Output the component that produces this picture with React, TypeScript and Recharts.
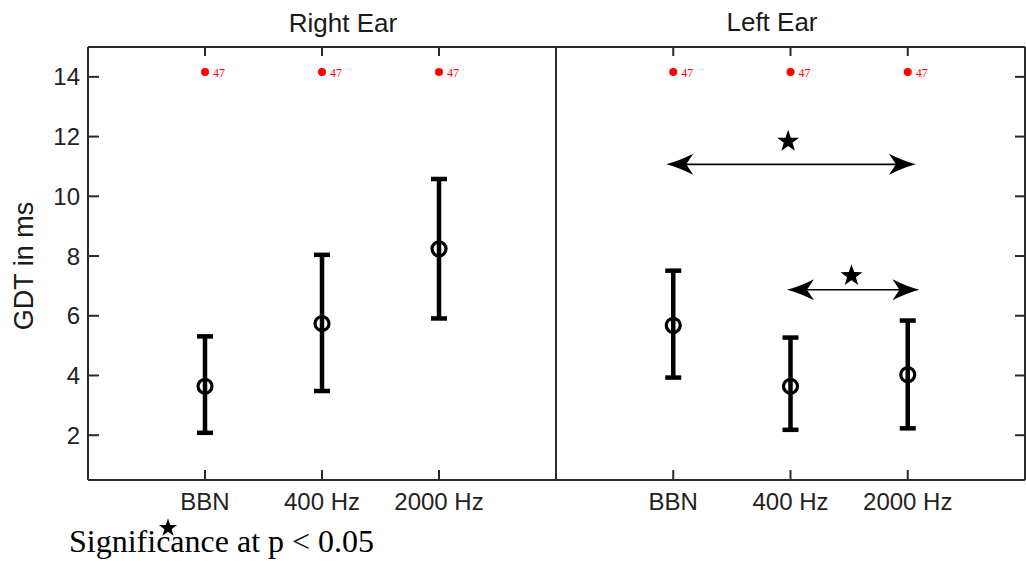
import React from 'react';
import { ScatterChart, Scatter, XAxis, YAxis, ErrorBar, ReferenceLine } from 'recharts';

// ---- data ----
const categories = ['BBN', '400 Hz', '2000 Hz'];
const categoryPositions = [1, 2, 3];

const rightMean = [3.64, 5.74, 8.24];
const rightLow = [2.08, 3.48, 5.91];
const rightHigh = [5.31, 8.04, 10.58];

const leftMean = [5.68, 3.64, 4.03];
const leftLow = [3.93, 2.18, 2.23];
const leftHigh = [7.51, 5.27, 5.84];

const yTicks = [2, 4, 6, 8, 10, 12, 14];
const yDomain = [0.5, 15];
const xDomain = [0, 4];

// significance arrows in the Left Ear panel
const arrowStartX = [0.94, 1.97];
const arrowEndX = [3.07, 3.1];
const arrowY = [11.07, 6.87];
const starX = [1.98, 2.52];
const starY = [11.84, 7.34];

const buildRows = (mean: number[], low: number[], high: number[]) =>
  categoryPositions.map((x, i) => ({
    x,
    y: mean[i],
    err: [mean[i] - low[i], high[i] - mean[i]],
  }));

const rightRows = buildRows(rightMean, rightLow, rightHigh);
const leftRows = buildRows(leftMean, leftLow, leftHigh);
const starRows = starX.map((x, i) => ({ x, y: starY[i] }));
const topTickRows = categoryPositions.map((x) => ({ x, y: yDomain[1] }));

// ---- styles ----
const AXIS = '#2a2a2a';
const SANS = '"Liberation Sans", Arial, sans-serif';
const tickStyle = { fontFamily: SANS, fontSize: 24, fill: '#222' };
const axisLineStyle = { stroke: AXIS, strokeWidth: 2 };

const Empty = () => <g />;
const NoDot = () => <g />;

const CircleShape = (props: any) => {
  const { cx, cy } = props;
  return <circle cx={cx} cy={cy} r={7} fill="none" stroke="#000" strokeWidth={3.2} />;
};

// inward tick mark hanging below the top frame line
const TopTickShape = (props: any) => {
  const { cx, cy } = props;
  return (
    <g>
      <line x1={cx} y1={cy} x2={cx} y2={cy + 9} stroke={AXIS} strokeWidth={2} />
      <circle cx={cx} cy={cy + 25} r={4} fill="red" />
      <text x={cx + 8} y={cy + 30} fontSize={12} fill="red">{`${Math.round(cy)}`}</text>
    </g>
  );
};

const starPoints = (cx: number, cy: number, ro: number, ri: number) => {
  const pts: string[] = [];
  for (let k = 0; k < 10; k++) {
    const r = k % 2 === 0 ? ro : ri;
    const a = ((-90 + k * 36) * Math.PI) / 180;
    pts.push(`${cx + r * Math.cos(a)},${cy + r * Math.sin(a)}`);
  }
  return pts.join(' ');
};

const StarShape = (props: any) => {
  const { cx, cy } = props;
  return <polygon points={starPoints(cx, cy, 11.5, 4.6)} fill="#000" />;
};

const headPath = (tx: number, ty: number, dir: number) => {
  const L = 27;
  const H = 10.5;
  const p = (dx: number, dy: number) => `${tx - dir * dx},${ty + dy}`;
  return `M${p(0, 0)} Q${p(12, -3)} ${p(L, -H)} L${p(20, 0)} L${p(L, H)} Q${p(12, 3)} ${p(0, 0)} Z`;
};

const ArrowShape = (props: any) => {
  const { x1, y1, x2, y2 } = props;
  const left = Math.min(x1, x2);
  const right = Math.max(x1, x2);
  return (
    <g>
      <line x1={left + 18} y1={y1} x2={right - 18} y2={y2} stroke="#000" strokeWidth={1.6} />
      <path d={headPath(right, y2, 1)} fill="#000" />
      <path d={headPath(left, y1, -1)} fill="#000" />
    </g>
  );
};

const fmt = (v: number) => categories[categoryPositions.indexOf(v)] ?? '';

export default function App() {
  return (
    <div style={{ position: 'absolute', left: 0, top: 0, width: 1026, height: 561, background: '#fff' }}>
      {/* Right Ear panel */}
      <div style={{ position: 'absolute', left: 0, top: 0 }}>
        <ScatterChart width={560} height={561} margin={{ top: 46, right: 3, bottom: 21, left: 0 }}>
          <XAxis
            xAxisId="b"
            type="number"
            dataKey="x"
            domain={xDomain}
            ticks={categoryPositions}
            tickFormatter={fmt}
            orientation="bottom"
            height={60}
            tickSize={-10}
            tickMargin={23}
            interval={0}
            axisLine={axisLineStyle}
            tickLine={axisLineStyle}
            tick={tickStyle}
          />
          <XAxis
            xAxisId="t"
            type="number"
            dataKey="x"
            domain={xDomain}
            ticks={categoryPositions}
            orientation="top"
            height={1}
            tickSize={0}
            axisLine={axisLineStyle}
            tickLine={false}
            tick={Empty}
          />
          <YAxis
            yAxisId="l"
            type="number"
            dataKey="y"
            domain={yDomain}
            ticks={yTicks}
            width={88}
            tickSize={-11}
            tickMargin={19}
            interval={0}
            axisLine={axisLineStyle}
            tickLine={axisLineStyle}
            tick={tickStyle}
          />
          <YAxis
            yAxisId="r"
            orientation="right"
            type="number"
            dataKey="y"
            domain={yDomain}
            ticks={yTicks}
            width={1}
            tickSize={0}
            axisLine={axisLineStyle}
            tickLine={false}
            tick={Empty}
          />
          <Scatter xAxisId="t" yAxisId="r" data={rightRows} shape={NoDot} isAnimationActive={false} />
          <Scatter xAxisId="b" yAxisId="l" data={topTickRows} shape={TopTickShape} isAnimationActive={false} />
          <Scatter xAxisId="b" yAxisId="l" data={rightRows} shape={CircleShape} isAnimationActive={false}>
            <ErrorBar dataKey="err" direction="y" width={8} stroke="#000" strokeWidth={4.5} isAnimationActive={false} />
          </Scatter>
        </ScatterChart>
      </div>

      {/* Left Ear panel */}
      <div style={{ position: 'absolute', left: 552, top: 0 }}>
        <ScatterChart width={474} height={561} margin={{ top: 46, right: 0, bottom: 21, left: 3 }}>
          <XAxis
            xAxisId="b"
            type="number"
            dataKey="x"
            domain={xDomain}
            ticks={categoryPositions}
            tickFormatter={fmt}
            orientation="bottom"
            height={60}
            tickSize={-10}
            tickMargin={23}
            interval={0}
            axisLine={axisLineStyle}
            tickLine={axisLineStyle}
            tick={tickStyle}
          />
          <XAxis
            xAxisId="t"
            type="number"
            dataKey="x"
            domain={xDomain}
            ticks={categoryPositions}
            orientation="top"
            height={1}
            tickSize={0}
            axisLine={axisLineStyle}
            tickLine={false}
            tick={Empty}
          />
          <YAxis
            yAxisId="l"
            type="number"
            dataKey="y"
            domain={yDomain}
            ticks={yTicks}
            width={1}
            tickSize={0}
            axisLine={axisLineStyle}
            tickLine={false}
            tick={Empty}
          />
          <YAxis
            yAxisId="r"
            orientation="right"
            type="number"
            dataKey="y"
            domain={yDomain}
            ticks={yTicks}
            width={1}
            tickSize={-10}
            interval={0}
            axisLine={axisLineStyle}
            tickLine={axisLineStyle}
            tick={Empty}
          />
          <Scatter xAxisId="t" yAxisId="r" data={leftRows} shape={NoDot} isAnimationActive={false} />
          <Scatter xAxisId="b" yAxisId="l" data={topTickRows} shape={TopTickShape} isAnimationActive={false} />
          {arrowY.map((y, i) => (
            <ReferenceLine
              key={i}
              xAxisId="b"
              yAxisId="l"
              segment={[
                { x: arrowStartX[i], y },
                { x: arrowEndX[i], y },
              ]}
              ifOverflow="visible"
              shape={ArrowShape}
            />
          ))}
          <Scatter xAxisId="b" yAxisId="l" data={leftRows} shape={CircleShape} isAnimationActive={false}>
            <ErrorBar dataKey="err" direction="y" width={8} stroke="#000" strokeWidth={4.5} isAnimationActive={false} />
          </Scatter>
          <Scatter xAxisId="b" yAxisId="l" data={starRows} shape={StarShape} isAnimationActive={false} />
        </ScatterChart>
      </div>

      {/* titles, axis label and significance note */}
      <svg
        width={1026}
        height={561}
        style={{ position: 'absolute', left: 0, top: 0, pointerEvents: 'none' }}
      >
        <text x={343} y={32} textAnchor="middle" fontFamily={SANS} fontSize={26} fill="#1a1a1a">
          Right Ear
        </text>
        <text x={772} y={31} textAnchor="middle" fontFamily={SANS} fontSize={26} fill="#1a1a1a">
          Left Ear
        </text>
        <text
          transform="translate(33,266) rotate(-90)"
          textAnchor="middle"
          fontFamily={SANS}
          fontSize={27}
          fill="#1a1a1a"
        >
          GDT in ms
        </text>
        <text x={69} y={552} fontFamily='"Liberation Serif", "Times New Roman", serif' fontSize={32} fill="#000">
          Significance at p &lt; 0.05
        </text>
        <polygon points={starPoints(168, 528, 9.5, 3.8)} fill="#000" />
      </svg>
    </div>
  );
}
